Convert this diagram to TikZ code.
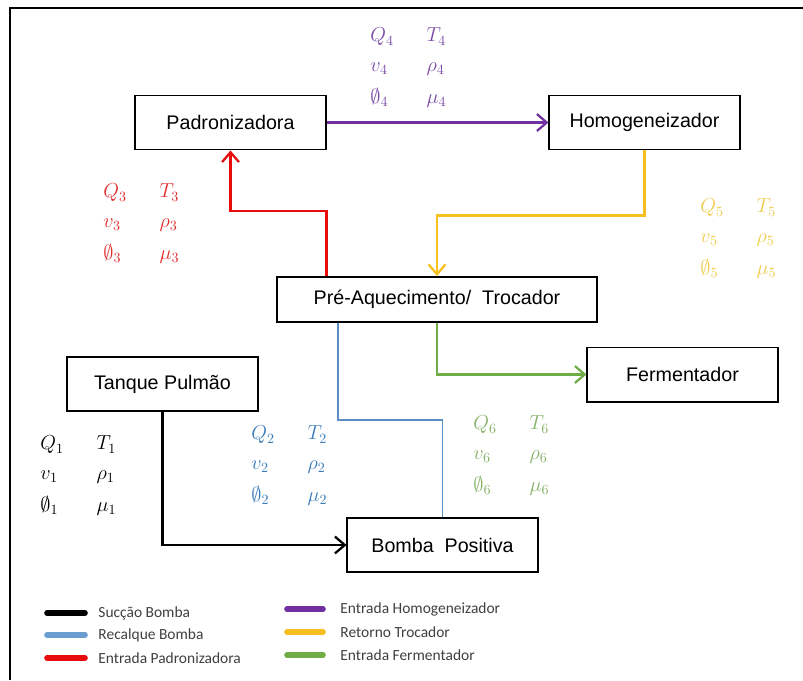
\documentclass[tikz,border=0pt]{standalone}
\usepackage{amsmath}
\usepackage{amssymb}
\usepackage{fontspec}
\setmainfont{Liberation Sans}
\newfontfamily\legfont{Carlito}
\usepackage{tikz}
\usetikzlibrary{arrows.meta}
\usetikzlibrary{positioning}
\usetikzlibrary{calc}
\definecolor{linepurple}{HTML}{7030A0}
\definecolor{linered}{HTML}{E80C0C}
\definecolor{lineyellow}{HTML}{F7C01E}
\definecolor{linegreen}{HTML}{70AD47}
\definecolor{lineblue}{HTML}{5B8EC4}
\definecolor{legblue}{HTML}{6A9ED0}
\definecolor{txtpurple}{HTML}{7A4CA8}
\definecolor{txtred}{HTML}{E03030}
\definecolor{txtyellow}{HTML}{F0CC50}
\definecolor{txtgreen}{HTML}{86B268}
\definecolor{txtblue}{HTML}{3B7DBA}
\definecolor{legtext}{HTML}{404040}

\newcommand{\vars}[1]{%
  \begin{tabular}{@{}p{40pt}@{}l@{}}
    $Q_{#1}$ & $T_{#1}$\\
    $v_{#1}$ & $\rho_{#1}$\\[2pt]
    $\emptyset_{#1}$ & $\mu_{#1}$
  \end{tabular}}

\begin{document}
\begin{tikzpicture}[
            x = 0.025cm, y = -0.025cm, % one unit = one pixel
            > = {Straight Barb[length=7pt, width=12pt, line width=1.6pt]},
            semithick
        ]

        \tikzstyle{unit}=[
            draw,
            line width = 1.4pt,
            fill = white,
            font = \fontsize{14}{16}\selectfont,
            minimum width = 4.75cm,
            minimum height = 1.35cm,
            inner sep = 0pt
        ]
        \tikzstyle{flow}=[line width = 2pt]
        \tikzstyle{params}=[anchor = west, inner sep = 0pt,
            font = \fontsize{14.5}{21}\selectfont]
        \tikzstyle{leg}=[line width = 4pt, line cap = round]
        \tikzstyle{legtxt}=[anchor = west, inner sep = 0pt, text = legtext,
            font = \legfont\fontsize{11}{13}\selectfont]

        \useasboundingbox (0,0) rectangle (803,680);
        \fill[white] (0,0) rectangle (803,680);

        % frame
        \draw[line width = 1.2pt] (10,680) -- (10,8) -- (803,8);

        % process units
        \node[unit] (Pad) at (230.5,122.5) {Padronizadora};
        \node[unit] (Hom) at (644.5,122.5) {Homogeneizador};
        \node[unit, minimum width = 8cm, minimum height = 1.125cm] (Pre) at (437,299.5) {Pré-Aquecimento/\ \ Trocador};
        \node[unit] (Tan) at (162.5,384) {Tanque Pulmão};
        \node[unit] (Bom) at (442.5,545) {Bomba\ \ Positiva};
        \node[unit] (Fer) at (682.5,374.5) {Fermentador};

        \coordinate (bend) at (338,420);

        % lines
        \draw[flow, linepurple, ->] (Pad.east) -- (Hom.west);
        \draw[flow, linered, ->] (Pre.north -| Pad.east) -- ++(0,-65) -| (Pad.south);
        \draw[flow, lineyellow, ->] (Hom.south) -- ++(0,65) -| (Pre.north);
        \draw[flow, linegreen, ->] (Pre.south) |- (Fer.west);
        \draw[line width = 1pt, lineblue] (Pre.south -| bend) -- (bend) -| (Bom.north);
        \draw[flow, black, ->] (Tan.south) |- (Bom.west);

        % stream variables
        \node[params, text = black] (V1) at (40,475) {\vars{1}};
        \node[params, text = txtblue] (V2) at (251,465) {\vars{2}};
        \node[params, text = txtred] (V3) at (103,223) {\vars{3}};
        \node[params, text = txtpurple] (V4) at (370,67) {\vars{4}};
        \node[params, text = txtyellow] (V5) at (700,238) {\vars{5}};
        \node[params, text = txtgreen] (V6) at (473,455) {\vars{6}};

        % legend
        \draw[leg, black] (47,613) -- (85,613);
        \node[legtxt] (L1) at (98,613) {Sucção Bomba};
        \draw[leg, legblue] (47,635) -- (85,635);
        \node[legtxt] (L2) at (98,635) {Recalque Bomba};
        \draw[leg, linered] (47,658) -- (85,658);
        \node[legtxt] (L3) at (98,658) {Entrada Padronizadora};
        \draw[leg, linepurple] (287,609) -- (323,609);
        \node[legtxt] (L4) at (340,609) {Entrada Homogeneizador};
        \draw[leg, lineyellow] (287,632) -- (323,632);
        \node[legtxt] (L5) at (340,632) {Retorno Trocador};
        \draw[leg, linegreen] (287,655) -- (323,655);
        \node[legtxt] (L6) at (340,655) {Entrada Fermentador};

\end{tikzpicture}
\end{document}
